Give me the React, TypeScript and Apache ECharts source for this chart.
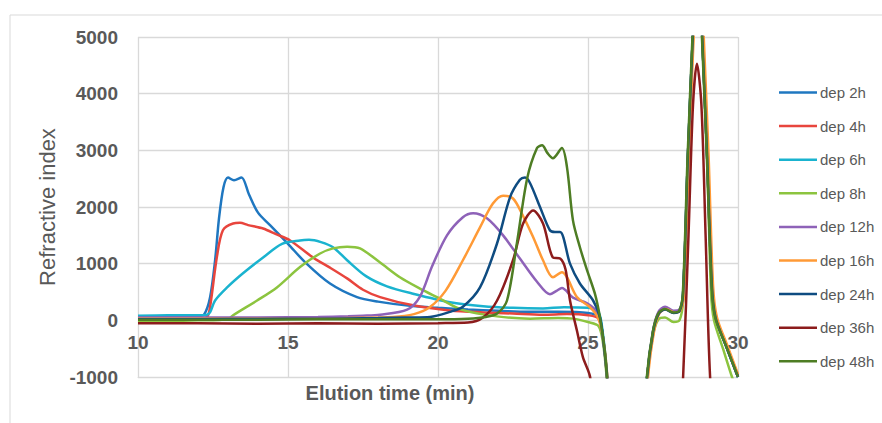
import React, { useEffect, useRef } from "react";
import * as echarts from "echarts";

type Pt = [number, number];

const seriesNames = ["dep 2h", "dep 4h", "dep 6h", "dep 8h", "dep 12h", "dep 16h", "dep 24h", "dep 36h", "dep 48h"];
const seriesColors = ["#1F77C0", "#E8453D", "#1AB3CF", "#8CC43F", "#8E62B8", "#FF9A36", "#0F4C81", "#8C1C1C", "#4E7D24"];

const xTicks = { min: 10, max: 30, interval: 5 };
const yTicks = { min: -1000, max: 5000, interval: 1000 };

const dep2h: Pt[] = [
  [10, 60], [11, 70], [12, 75], [12.2, 100], [12.4, 400], [12.57, 1060], [12.7, 1800], [12.85, 2350], [13.0, 2520],
  [13.2, 2470], [13.45, 2520], [13.7, 2220], [14.0, 1900], [14.4, 1680], [15.0, 1350], [15.6, 1010], [16.4, 650],
  [17.3, 410], [18.0, 330], [19, 260], [20, 220], [21, 190], [22, 170], [23, 150], [24, 150], [25, 130], [25.35, 60],
  [25.5, -300], [25.63, -1000], [25.8, -2500], [26.3, -4000], [26.8, -2500], [26.97, -1000], [27.17, -200], [27.35, 120],
  [27.57, 200], [27.85, 140], [28.05, 170], [28.17, 470], [28.33, 2900], [28.5, 5100], [28.65, 7000], [28.8, 5100],
  [28.97, 2900], [29.13, 600], [29.25, 50], [29.6, -450], [30, -1000],
];

const dep4h: Pt[] = [
  [10, 20], [11, 30], [12, 35], [12.3, 60], [12.4, 230], [12.63, 1120], [12.83, 1590], [13.17, 1710], [13.4, 1720],
  [13.67, 1680], [14.17, 1620], [14.6, 1520], [15.07, 1410], [15.83, 1110], [16.4, 930], [16.97, 740], [17.5, 540],
  [18.07, 410], [19.17, 265], [20.4, 175], [21.5, 140], [22.5, 120], [23.5, 100], [24.3, 110], [25, 90], [25.35, 30],
  [25.5, -300], [25.63, -1000], [25.8, -2500], [26.3, -4000], [26.8, -2500], [26.98, -1000], [27.18, -200], [27.36, 120],
  [27.58, 210], [27.86, 140], [28.06, 170], [28.18, 470], [28.34, 2900], [28.51, 5100], [28.66, 7000], [28.81, 5100],
  [28.98, 2900], [29.14, 600], [29.26, 50], [29.62, -450], [30, -980],
];

const dep6h: Pt[] = [
  [10, 80], [11, 90], [12, 90], [12.3, 100], [12.4, 140], [12.57, 350], [12.97, 580], [13.5, 830], [14.17, 1110],
  [14.8, 1350], [15.4, 1410], [15.7, 1420], [16.1, 1380], [16.5, 1290], [16.97, 1060], [17.6, 780], [18.3, 600],
  [19.17, 470], [20.4, 320], [21.5, 250], [22.5, 220], [23.5, 210], [24.2, 230], [25, 220], [25.35, 150],
  [25.5, -250], [25.64, -1000], [25.8, -2500], [26.3, -4000], [26.8, -2500], [26.97, -1000], [27.17, -200], [27.35, 130],
  [27.57, 210], [27.85, 150], [28.05, 180], [28.17, 470], [28.33, 2900], [28.5, 5100], [28.65, 7000], [28.8, 5100],
  [28.97, 2900], [29.13, 600], [29.25, 50], [29.6, -450], [30, -1000],
];

const dep8h: Pt[] = [
  [10, -20], [11, -10], [12, 0], [13.0, 20], [13.17, 90], [13.97, 350], [14.63, 580], [15.4, 940], [16.07, 1180],
  [16.5, 1270], [16.97, 1300], [17.4, 1270], [18.07, 1020], [18.73, 760], [19.4, 560], [20.0, 400], [20.83, 180],
  [21.97, 70], [23.07, 30], [24.0, 40], [24.5, 30], [25.0, -30], [25.35, -100],
  [25.5, -400], [25.62, -1000], [25.8, -2500], [26.3, -4000], [26.8, -2500], [26.97, -1000], [27.17, -250], [27.35, 20],
  [27.57, 50], [27.85, -30], [28.05, 0], [28.17, 350], [28.33, 2800], [28.5, 5100], [28.65, 7000], [28.8, 5100],
  [28.97, 2900], [29.1, 500], [29.2, 0], [29.5, -500], [29.8, -1000], [30, -1300],
];

const dep12h: Pt[] = [
  [10, 50], [12, 50], [14, 50], [16, 60], [17, 70], [17.5, 80], [18.07, 100], [18.97, 190], [19.4, 420], [19.8, 950],
  [20.3, 1500], [20.83, 1820], [21.17, 1890], [21.63, 1800], [22.17, 1500], [22.73, 1090], [23.3, 680], [23.73, 460],
  [23.95, 520], [24.13, 570], [24.5, 400], [24.97, 300], [25.3, 140], [25.48, -250],
  [25.63, -1000], [25.8, -2500], [26.3, -4000], [26.8, -2500], [26.97, -1000], [27.17, -180], [27.35, 150],
  [27.57, 240], [27.85, 170], [28.05, 190], [28.17, 480], [28.33, 2900], [28.5, 5100], [28.65, 7000], [28.8, 5100],
  [28.97, 2900], [29.13, 600], [29.25, 50], [29.6, -450], [30, -1000],
];

const dep16h: Pt[] = [
  [10, 30], [12, 30], [14, 30], [16, 30], [17, 40], [18.5, 60], [19.2, 110], [19.7, 220], [20.25, 520], [20.83, 1060],
  [21.4, 1640], [21.83, 2060], [22.17, 2200], [22.5, 2150], [22.8, 1880], [23.17, 1470], [23.5, 1060], [23.83, 760],
  [24.13, 850], [24.3, 760], [24.63, 410], [25.07, 230], [25.33, 50], [25.5, -300],
  [25.65, -1000], [25.8, -2500], [26.3, -4000], [26.8, -2500], [27.0, -1000], [27.2, -200], [27.38, 120],
  [27.6, 200], [27.88, 140], [28.08, 170], [28.2, 470], [28.36, 2900], [28.53, 5100], [28.7, 7000], [28.85, 5100],
  [29.02, 2900], [29.17, 600], [29.3, 50], [29.65, -450], [30, -950],
];

const dep24h: Pt[] = [
  [10, 20], [12, 20], [14, 25], [16, 30], [18, 40], [19.0, 50], [19.73, 60], [20.4, 150], [20.83, 240], [21.4, 580],
  [21.97, 1360], [22.4, 2170], [22.73, 2480], [22.9, 2520], [23.07, 2420], [23.4, 2000], [23.73, 1590], [23.9, 1560],
  [24.07, 1560], [24.4, 1000], [24.73, 650], [25.17, 350], [25.4, 50], [25.52, -400],
  [25.64, -1000], [25.8, -2500], [26.3, -4000], [26.8, -2500], [26.97, -1000], [27.17, -200], [27.35, 110],
  [27.57, 190], [27.85, 130], [28.05, 160], [28.17, 470], [28.33, 2900], [28.5, 5100], [28.65, 7000], [28.8, 5100],
  [28.97, 2900], [29.13, 600], [29.25, 50], [29.6, -450], [30, -1000],
];

const dep36h: Pt[] = [
  [10, -50], [12, -50], [14, -60], [16, -50], [18, -60], [20, -50], [21, -40], [21.5, 50], [21.97, 350], [22.5, 1060],
  [22.83, 1700], [23.17, 1940], [23.5, 1710], [23.83, 1110], [24.07, 1090], [24.25, 900], [24.4, 350], [24.63, -180],
  [24.83, -650], [25.07, -1000], [25.4, -2500], [26, -4000], [27.5, -4000], [28.0, -2500], [28.17, -1000], [28.35, 1500],
  [28.5, 3800], [28.63, 4530], [28.78, 3800], [28.92, 1500], [29.07, -1000], [29.3, -2500], [30, -3500],
];

const dep48h: Pt[] = [
  [10, 10], [12, 10], [14, 10], [16, 20], [18, 20], [20, 20], [21, 30], [21.6, 60], [21.97, 120], [22.3, 350],
  [22.63, 1360], [22.97, 2500], [23.3, 3040], [23.47, 3090], [23.65, 2950], [23.83, 2860], [24.13, 3040], [24.3, 2700],
  [24.5, 1760], [24.73, 1290], [24.97, 880], [25.23, 470], [25.4, 50], [25.55, -500],
  [25.63, -1000], [25.8, -2500], [26.3, -4000], [26.8, -2500], [26.96, -1000], [27.16, -200], [27.34, 120],
  [27.56, 200], [27.84, 140], [28.04, 170], [28.16, 470], [28.32, 2900], [28.49, 5100], [28.64, 7000], [28.79, 5100],
  [28.96, 2900], [29.12, 600], [29.24, 50], [29.6, -450], [30, -1000],
];

const seriesData: Pt[][] = [dep2h, dep4h, dep6h, dep8h, dep12h, dep16h, dep24h, dep36h, dep48h];

const FONT = "Liberation Sans, Arial, sans-serif";
const GRAY = "#595959";
const GRID = "#d9d9d9";

export default function App() {
  const ref = useRef<HTMLDivElement>(null);
  useEffect(() => {
    if (!ref.current) return;
    const chart = echarts.init(ref.current, null, { renderer: "svg" });
    chart.setOption({
      animation: false,
      backgroundColor: "#ffffff",
      grid: { left: 138, right: 144, top: 37, bottom: 46, containLabel: false },
      graphic: [
        {
          type: "rect",
          shape: { x: 10, y: 15, width: 900, height: 430 },
          style: { fill: "none", stroke: GRID, lineWidth: 1 },
          silent: true,
          z: -10,
        },
        {
          type: "text",
          x: 390,
          y: 393,
          style: {
            text: "Elution time (min)",
            fill: GRAY,
            font: `bold 20px ${FONT}`,
            textAlign: "center",
            textVerticalAlign: "middle",
          },
        },
        {
          type: "text",
          x: 47,
          y: 207,
          rotation: Math.PI / 2,
          style: {
            text: "Refractive index",
            fill: GRAY,
            font: `22px ${FONT}`,
            textAlign: "center",
            textVerticalAlign: "middle",
          },
        },
      ],
      legend: {
        data: seriesNames,
        orient: "vertical",
        left: 779,
        top: 85,
        padding: 0,
        itemWidth: 38,
        itemHeight: 14,
        itemGap: 18.6,
        icon: "path://M0 0H38V2.5H0Z",
        textStyle: { color: GRAY, fontSize: 15, fontFamily: FONT, padding: [0, 0, 0, -2] },
      },
      xAxis: {
        type: "value",
        min: xTicks.min,
        max: xTicks.max,
        interval: xTicks.interval,
        axisLine: { show: true, onZero: false, lineStyle: { color: GRID, width: 1 } },
        axisTick: { show: false },
        axisLabel: { color: GRAY, fontSize: 19, fontWeight: "bold", fontFamily: FONT, margin: -44 },
        splitLine: { show: true, lineStyle: { color: GRID, width: 1.3 } },
      },
      yAxis: {
        type: "value",
        min: yTicks.min,
        max: yTicks.max,
        interval: yTicks.interval,
        axisLine: { show: false },
        axisTick: { show: false },
        axisLabel: {
          color: GRAY,
          fontSize: 19,
          fontWeight: "bold",
          fontFamily: FONT,
          margin: 20,
          formatter: (v: number) => String(v),
        },
        splitLine: { show: true, lineStyle: { color: GRID, width: 1.3 } },
      },
      series: seriesData.map((d, i) => ({
        name: seriesNames[i],
        type: "line",
        data: d,
        smooth: 0.3,
        symbol: "none",
        clip: true,
        color: seriesColors[i],
        lineStyle: { color: seriesColors[i], width: 2.5 },
      })),
    });
    return () => chart.dispose();
  }, []);
  return <div ref={ref} style={{ position: "fixed", left: 0, top: 0, width: 882, height: 423 }} />;
}
